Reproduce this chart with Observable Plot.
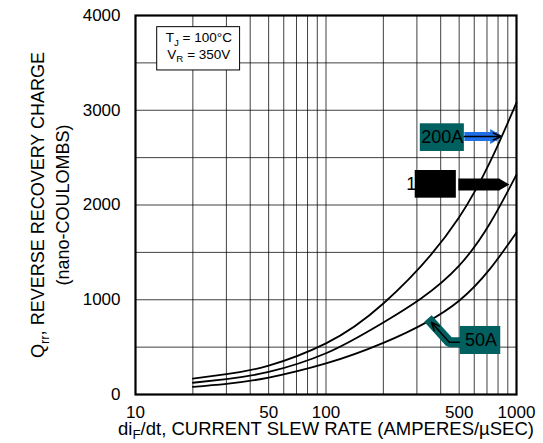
<!DOCTYPE html>
<html>
<head>
<meta charset="utf-8">
<script src="https://cdn.jsdelivr.net/npm/d3@7"></script>
<script src="https://cdn.jsdelivr.net/npm/@observablehq/plot@0.6"></script>
<style>
  html, body { margin: 0; padding: 0; background: #fff; }
</style>
</head>
<body>
<div id="chart"></div>
<script>
// Reverse recovery charge vs. current slew rate, three forward currents
const slewRate = [20, 30, 50, 100, 200, 500, 1000];
const qrr200A = [168, 215, 305, 540, 960, 1870, 3080];
const qrr100A = [124, 163, 238, 435, 760, 1360, 2320];
const qrr50A  = [80, 112, 178, 328, 545, 990, 1710];

const seriesNames = ["200A", "100A", "50A"];
const seriesValues = [qrr200A, qrr100A, qrr50A];

const xTicks = [10, 50, 100, 500, 1000];
const yTicks = [0, 1000, 2000, 3000, 4000];
const xGrid = [20, 30, 40, 50, 60, 70, 80, 90, 100, 200, 300, 400, 500, 600, 700, 800, 900];
const yGrid = [500, 1000, 1500, 2000, 2500, 3000, 3500];

const conditions = ["T_{J} = 100°C", "V_{R} = 350V"];
const xTitle = "di_{F}/dt, CURRENT SLEW RATE (AMPERES/µSEC)";
const yTitle = ["Q_{rr}, REVERSE RECOVERY CHARGE", "(nano-COULOMBS)"];

const rows = seriesNames.flatMap((name, s) =>
  slewRate.map((x, i) => ({series: name, x, q: seriesValues[s][i]}))
);

const teal = "#005f5f";
const blue = "#1f6fe8";

const chart = Plot.plot({
  width: 543,
  height: 443,
  marginLeft: 135,
  marginRight: 27,
  marginTop: 15,
  marginBottom: 49,
  style: {fontFamily: "'Liberation Sans', Arial, Helvetica, sans-serif", fontSize: "17px", background: "#fff", color: "#000"},
  x: {type: "log", domain: [10, 1000]},
  y: {domain: [0, 4000]},
  marks: [
    Plot.gridX(xGrid, {stroke: "#000", strokeOpacity: 0.75, strokeWidth: 1}),
    Plot.gridY(yGrid, {stroke: "#000", strokeOpacity: 0.75, strokeWidth: 1}),
    Plot.axisX({ticks: xTicks, tickFormat: d => String(d), tickSize: 0, tickPadding: 11, fontSize: 17, label: null}),
    Plot.axisY({ticks: yTicks, tickFormat: d => String(d), tickSize: 0, tickPadding: 15, fontSize: 17, label: null}),
    Plot.line(rows, {x: "x", y: "q", z: "series", stroke: "#000", strokeWidth: 1.8, curve: "natural"}),
    Plot.frame({stroke: "#000", strokeWidth: 2.2}),

    // test conditions box
    Plot.rect([0], {x1: 13.0, x2: 35.4, y1: 3420, y2: 3877, fill: "#fff", stroke: "#000", strokeWidth: 1}),
    Plot.text([conditions[0]], {text: d => d, x: 21.5, y: 3718, lineAnchor: "bottom", fontSize: 13.5}),
    Plot.text([conditions[1]], {text: d => d, x: 21.5, y: 3543, lineAnchor: "bottom", fontSize: 13.5}),

    // 200A label and arrow
    Plot.rect([0], {x1: 312.6, x2: 532.5, y1: 2565, y2: 2857, fill: teal}),
    Plot.text([seriesNames[0]], {text: d => d, x: 407.8, y: 2710, fontSize: 18, fill: "#000"}),
    Plot.link([0], {x1: 532.5, x2: 790, y1: 2723, y2: 2723, stroke: blue, strokeWidth: 9}),
    Plot.dot([0], {x: 766, y: 2723, r: 5.5, symbol: "triangle", rotate: 90, fill: blue, stroke: null}),
    Plot.arrow([0], {x1: 532.5, x2: 834, y1: 2723, y2: 2723, stroke: "#000", strokeWidth: 1.5, headLength: 9, headAngle: 45}),

    // 100A label and arrow
    Plot.text([seriesNames[1]], {text: d => d, x: 263.6, y: 2216, textAnchor: "start", fontSize: 18, fill: "#000"}),
    Plot.rect([0], {x1: 294, x2: 483.3, y1: 2072, y2: 2364, fill: "#000"}),
    Plot.link([0], {x1: 495, x2: 814, y1: 2216, y2: 2216, stroke: "#000", strokeWidth: 12}),
    Plot.dot([0], {x: 844, y: 2216, r: 4.5, symbol: "triangle", rotate: 90, fill: "#000", stroke: null}),

    // 50A label and arrow
    Plot.line([[507.4, 552], [444.1, 552], [357, 763]], {stroke: teal, strokeWidth: 10, strokeLinejoin: "miter", strokeLinecap: "square", curve: "linear"}),
    Plot.line([[507.4, 552], [444.1, 552]], {stroke: "#000", strokeWidth: 1.5}),
    Plot.arrow([0], {x1: 444.1, y1: 552, x2: 357, y2: 763, stroke: "#000", strokeWidth: 1.5, headLength: 9, headAngle: 45}),
    Plot.rect([0], {x1: 507.4, x2: 826.7, y1: 422, y2: 718, fill: teal}),
    Plot.text([seriesNames[2]], {text: d => d, x: 650.5, y: 570, fontSize: 18, fill: "#000"}),

    // axis titles
    Plot.text([xTitle], {text: d => d, frameAnchor: "bottom", lineAnchor: "bottom", dy: 40, fontSize: 18.5}),
    Plot.text([yTitle[0]], {text: d => d, frameAnchor: "left", textAnchor: "middle", rotate: -90, dx: -97, fontSize: 18}),
    Plot.text([yTitle[1]], {text: d => d, frameAnchor: "left", textAnchor: "middle", rotate: -90, dx: -72, fontSize: 18})
  ]
});

// Turn "_{...}" runs into lowered, smaller tspans
d3.select(chart).selectAll("text").each(function () {
  const s = this.textContent;
  if (!s.includes("_{")) return;
  const parts = s.split(/_\{([^}]*)\}/);
  const el = d3.select(this);
  el.text(null);
  let lowered = false;
  parts.forEach((p, i) => {
    if (!p) return;
    const t = el.append("tspan").text(p);
    if (i % 2) {
      t.attr("font-size", "72%").attr("dy", "0.35em");
      lowered = true;
    } else if (lowered) {
      t.attr("dy", "-0.252em");
      lowered = false;
    }
  });
});

document.getElementById("chart").append(chart);
</script>
</body>
</html>
